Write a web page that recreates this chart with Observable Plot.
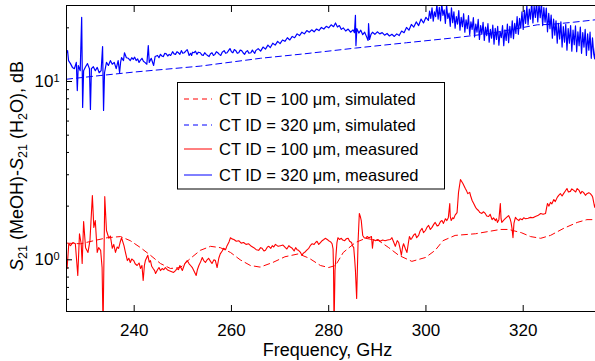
<!DOCTYPE html>
<html><head><meta charset="utf-8">
<script src="https://cdn.jsdelivr.net/npm/d3@7"></script>
<script src="https://cdn.jsdelivr.net/npm/@observablehq/plot@0.6"></script>
<style>
body{margin:0;background:#fff}
svg{font-family:"Liberation Sans",Arial,Helvetica,sans-serif}
</style>
</head><body><div id="chart"></div>
<script>
// ---- data ----
const xTicks = [240, 260, 280, 300, 320];
const yMajor = [1, 10];
const yMinor = [0.6, 0.7, 0.8, 0.9, 2, 3, 4, 5, 6, 7, 8, 9, 20];
const xDomain = [226.08, 334.87];
const yDomain = [0.5129, 26.69];

const legendLabels = [
  "CT ID = 100 \u03bcm, simulated",
  "CT ID = 320 \u03bcm, simulated",
  "CT ID = 100 \u03bcm, measured",
  "CT ID = 320 \u03bcm, measured"
];

// [frequency GHz, S21 difference dB]
const redSim = [[226.2,1.24],[229.0,1.23],[231.7,1.28],[234.45,1.33],[237.2,1.35],[239.2,1.28],[241.3,1.17],[243.35,1.06],[245.4,0.953],[247.45,0.894],[249.5,0.905],[251.6,1.02],[253.6,1.13],[255.7,1.19],[257.7,1.17],[259.8,1.10],[261.8,1.00],[263.9,0.929],[265.9,0.91],[268.5,0.966],[271.0,1.04],[273.8,1.08],[276.0,1.02],[278.3,0.929],[280.0,0.905],[281.4,0.929],[283.0,1.10],[285.5,1.25],[287.6,1.32],[290.3,1.28],[292.35,1.17],[294.4,1.06],[297.1,0.98],[299.9,1.03],[301.9,1.13],[303.5,1.28],[306.0,1.37],[310.2,1.40],[315.3,1.48],[317.0,1.48],[319.6,1.42],[321.5,1.35],[323.6,1.32],[325.6,1.37],[328.3,1.50],[331.1,1.62],[333.1,1.68],[334.9,1.68]];

const blueSim = [[226.1,10.3],[233,10.8],[240,11.3],[253.6,12.2],[266,13.5],[275,14.3],[285.5,15.4],[296,16.5],[306,17.6],[313.2,18.6],[320,20.1],[322.9,20.8],[325.6,20.9],[330.3,21.5],[334.9,22.2]];

const redMeas = [[226.2,0.894],[226.55,1.23],[226.9,1.20],[227.4,1.25],[227.9,1.23],[228.4,0.817],[228.75,1.40],[229.1,1.23],[229.3,0.953],[229.6,1.64],[230.0,1.17],[230.5,1.10],[230.9,1.28],[231.4,2.29],[231.7,1.52],[232.0,1.66],[232.4,1.10],[232.7,1.17],[233.1,1.13],[233.4,0.905],[233.6,0.42],[233.95,2.26],[234.3,1.46],[234.8,1.32],[235.1,1.36],[235.5,1.16],[235.8,1.22],[236.15,1.10],[236.5,1.18],[236.8,1.16],[237.1,1.25],[237.4,1.33],[237.9,1.20],[238.2,1.10],[238.6,0.99],[238.9,1.02],[239.2,0.966],[239.5,1.01],[239.9,0.99],[240.2,0.95],[240.6,0.929],[241.0,0.96],[241.3,0.894],[241.6,0.93],[241.85,0.765],[242.1,0.93],[242.3,0.99],[242.8,1.06],[243.1,0.97],[243.35,0.99],[243.6,0.92],[243.9,0.894],[244.2,0.87],[244.4,0.838],[244.8,0.88],[245.1,0.905],[245.4,0.87],[245.75,0.894],[246.1,0.88],[246.4,0.905],[246.8,0.88],[247.1,0.871],[247.6,0.86],[248.1,0.849],[248.5,0.87],[248.8,0.894],[249.1,0.88],[249.4,0.929],[249.9,0.871],[250.4,0.95],[250.9,0.99],[251.3,0.95],[251.6,0.929],[252.0,0.90],[252.25,0.871],[252.75,0.817],[253.0,0.88],[253.3,0.929],[253.7,0.98],[254.0,1.03],[254.3,0.99],[254.65,0.966],[255.0,1.00],[255.3,1.02],[255.7,0.98],[256.0,0.953],[256.4,1.00],[256.7,0.99],[257.05,0.905],[257.4,1.02],[257.7,1.08],[258.1,1.12],[258.4,1.16],[258.8,1.14],[259.1,1.20],[259.5,1.26],[259.8,1.33],[260.1,1.31],[260.5,1.30],[261.0,1.27],[261.5,1.28],[262.0,1.24],[262.5,1.25],[263.0,1.22],[263.55,1.23],[264.1,1.19],[264.6,1.17],[265.1,1.14],[265.6,1.13],[266.0,1.17],[266.3,1.16],[266.7,1.12],[267.0,1.13],[267.4,1.18],[267.7,1.19],[268.1,1.16],[268.4,1.20],[268.7,1.18],[269.05,1.22],[269.6,1.19],[270.1,1.20],[270.6,1.21],[271.1,1.17],[271.4,1.15],[271.8,1.20],[272.1,1.18],[272.5,1.16],[272.9,1.12],[273.2,1.17],[273.5,1.14],[273.8,1.13],[274.2,1.10],[274.5,1.06],[274.8,1.09],[275.2,1.11],[275.6,1.14],[275.9,1.16],[276.3,1.21],[276.6,1.23],[277.0,1.22],[277.3,1.25],[277.6,1.27],[277.95,1.22],[278.3,1.25],[278.65,1.28],[279.0,1.30],[279.3,1.32],[279.7,1.30],[280.0,1.28],[280.4,1.26],[280.7,1.23],[280.9,1.15],[281.0,0.871],[281.1,0.42],[281.3,0.871],[281.5,1.06],[281.7,1.25],[281.9,1.33],[282.2,1.30],[282.6,1.32],[282.9,1.29],[283.3,1.28],[283.6,1.31],[284.0,1.32],[284.3,1.27],[284.7,1.25],[284.9,1.20],[285.15,1.17],[285.35,1.00],[285.5,0.871],[285.75,0.607],[286.05,1.28],[286.3,1.82],[286.5,1.75],[286.7,1.66],[286.85,1.50],[287.0,1.37],[287.3,1.33],[287.55,1.32],[287.9,1.35],[288.25,1.33],[288.5,1.34],[288.8,1.35],[289.0,1.16],[289.2,1.30],[289.6,1.28],[290.1,1.30],[290.6,1.27],[291.1,1.29],[291.6,1.28],[292.1,1.29],[292.7,1.30],[293.0,1.33],[293.4,1.25],[293.7,1.19],[294.1,1.28],[294.4,1.25],[294.7,1.15],[294.95,1.06],[295.2,1.18],[295.4,1.23],[295.8,1.15],[296.1,1.10],[296.4,1.25],[296.6,1.35],[296.9,1.30],[297.1,1.32],[297.5,1.38],[297.8,1.40],[298.1,1.33],[298.5,1.37],[298.8,1.45],[299.2,1.50],[299.5,1.42],[299.9,1.46],[300.2,1.52],[300.55,1.56],[300.9,1.48],[301.25,1.52],[301.6,1.58],[301.9,1.62],[302.3,1.55],[302.6,1.56],[303.0,1.64],[303.3,1.66],[303.6,1.60],[304.0,1.70],[304.3,1.66],[304.6,1.72],[304.9,2.07],[305.0,1.75],[305.2,1.66],[305.5,1.72],[305.7,1.70],[306.0,1.78],[306.4,1.84],[306.7,2.39],[307.1,2.82],[307.35,2.75],[307.6,2.68],[308.1,2.51],[308.4,2.42],[308.6,2.35],[309.0,2.39],[309.2,2.28],[309.5,2.15],[309.9,2.05],[310.2,1.97],[310.5,1.92],[310.8,1.89],[311.1,1.84],[311.5,1.82],[311.8,1.86],[312.2,1.82],[312.5,1.76],[312.9,1.75],[313.2,1.80],[313.6,1.68],[313.9,1.72],[314.3,1.66],[314.5,1.70],[314.7,1.62],[315.0,1.68],[315.3,2.07],[315.45,1.70],[315.6,1.62],[316.0,1.67],[316.3,1.70],[316.7,1.74],[317.0,1.77],[317.3,1.70],[317.5,1.62],[317.7,1.50],[317.9,1.33],[318.1,1.60],[318.4,1.73],[318.7,1.69],[319.1,1.66],[319.4,1.70],[319.8,1.68],[320.1,1.72],[320.5,1.70],[321.0,1.71],[321.5,1.73],[322.0,1.72],[322.5,1.75],[323.0,1.77],[323.6,1.82],[324.1,1.80],[324.6,1.82],[324.8,1.95],[325.0,2.07],[325.3,2.00],[325.6,2.10],[325.9,2.06],[326.3,2.18],[326.6,2.12],[327.0,2.24],[327.3,2.30],[327.65,2.35],[328.0,2.28],[328.3,2.35],[328.7,2.44],[329.0,2.51],[329.3,2.40],[329.7,2.42],[330.0,2.50],[330.4,2.45],[330.8,2.40],[331.1,2.51],[331.5,2.45],[331.8,2.35],[332.1,2.42],[332.4,2.39],[332.8,2.30],[333.1,2.35],[333.5,2.38],[333.8,2.35],[334.1,2.30],[334.3,2.24],[334.5,2.10],[334.7,1.97],[334.87,2.05]];

const blueMeas = [[226.1,14.5],[226.3,14.9],[226.5,13.1],[226.9,12.6],[227.3,12.0],[227.7,11.8],[228.1,12.8],[228.3,8.9],[228.5,12.3],[228.9,11.5],[229.2,22.9],[229.4,7.15],[229.6,11.5],[230.0,12.1],[230.4,12.6],[230.8,11.8],[231.0,6.97],[231.2,11.8],[231.6,12.1],[232.0,11.5],[232.4,12.0],[232.8,11.2],[233.2,11.5],[233.5,15.7],[233.7,6.88],[233.9,11.2],[234.3,12.8],[234.7,12.3],[235.1,13.1],[235.5,12.5],[235.9,12.8],[236.3,11.8],[236.7,13.1],[237.0,11.2],[237.2,12.8],[237.4,13.6],[237.8,13.1],[238.0,14.5],[238.4,13.6],[238.8,13.5],[239.2,13.1],[239.5,13.6],[239.8,13.3],[240.1,13.7],[240.4,13.1],[240.7,13.4],[241.0,12.8],[241.3,13.2],[241.6,13.5],[241.9,13.0],[242.2,12.8],[242.6,12.5],[242.9,15.9],[243.1,12.8],[243.5,13.5],[244.0,12.3],[244.3,13.8],[244.8,14.0],[245.1,13.6],[245.4,14.2],[245.7,13.9],[246.0,13.8],[246.3,14.4],[246.6,14.3],[246.9,13.9],[247.2,14.2],[247.5,14.0],[247.9,14.7],[248.2,14.3],[248.5,14.2],[248.8,14.7],[249.1,14.5],[249.4,14.2],[249.7,14.9],[250.0,14.4],[250.3,14.5],[250.6,14.8],[250.9,15.1],[251.1,14.6],[251.3,14.0],[251.6,14.4],[251.8,14.0],[252.0,14.6],[252.3,14.5],[252.6,14.8],[252.9,14.2],[253.2,14.6],[253.6,14.5],[253.9,14.1],[254.2,14.0],[254.5,14.5],[254.8,14.2],[255.1,14.0],[255.4,13.8],[255.7,14.3],[256.0,14.5],[256.3,14.0],[256.6,14.2],[256.9,14.7],[257.2,14.5],[257.5,14.2],[257.8,14.0],[258.1,14.6],[258.5,14.9],[258.8,14.4],[259.1,14.5],[259.4,14.9],[259.7,15.3],[260.0,14.7],[260.3,14.5],[260.6,15.1],[260.9,14.9],[261.2,14.4],[261.5,14.5],[261.8,15.0],[262.1,14.9],[262.4,14.5],[262.7,14.2],[263.0,14.7],[263.3,14.9],[263.6,14.4],[264.0,14.5],[264.3,15.0],[264.5,14.7],[264.8,14.4],[265.0,14.9],[265.5,15.3],[266.0,14.8],[266.5,15.6],[267.0,15.2],[267.5,16.0],[268.0,15.5],[268.5,16.4],[269.0,16.0],[269.5,16.8],[270.0,16.3],[270.5,17.1],[271.0,16.8],[271.5,17.6],[272.0,17.1],[272.5,17.9],[273.0,17.6],[273.5,18.5],[274.0,18.1],[274.5,18.9],[275.0,18.5],[275.5,19.3],[276.0,18.9],[276.5,19.5],[277.0,19.0],[277.5,19.7],[278.0,19.3],[278.5,20.1],[279.0,19.7],[279.5,20.4],[280.0,20.0],[280.5,20.8],[281.0,20.3],[281.4,21.3],[281.8,20.2],[282.2,20.6],[282.6,19.6],[283.0,20.0],[283.5,19.2],[284.0,19.7],[284.5,18.9],[285.0,19.5],[285.3,18.8],[285.5,23.5],[285.6,15.9],[285.8,19.8],[286.2,18.7],[286.6,19.4],[287.0,18.3],[287.4,18.9],[287.8,17.8],[288.1,17.0],[288.2,21.1],[288.4,17.2],[288.7,18.4],[289.0,18.9],[289.5,18.4],[290.0,19.0],[290.5,18.5],[291.0,18.8],[291.5,18.2],[292.0,18.6],[292.5,18.0],[293.0,18.4],[293.5,17.9],[294.0,18.5],[294.5,18.1],[295.0,19.2],[295.5,18.8],[296.0,20.1],[296.5,19.4],[297.0,20.9],[297.5,20.2],[298.0,21.6],[298.5,20.6],[299.0,22.4],[299.5,21.3],[300.0,22.9],[300.5,22.0],[300.75,24.8],[301.0,22.6],[301.25,25.9],[301.5,21.8],[301.75,24.6],[302.0,23.1],[302.25,27.0],[302.5,22.4],[302.75,26.1],[303.0,21.9],[303.25,27.4],[303.5,23.5],[303.75,25.2],[304.0,21.2],[304.25,26.8],[304.5,22.6],[304.75,24.2],[305.0,20.4],[305.25,25.9],[305.5,21.4],[305.75,24.6],[306.0,19.9],[306.25,23.1],[306.5,21.0],[306.75,25.0],[307.0,19.4],[307.25,22.9],[307.5,20.3],[307.75,24.0],[308.0,18.9],[308.25,22.2],[308.5,19.8],[308.75,23.4],[309.0,18.3],[309.25,21.6],[309.5,19.6],[309.75,22.8],[310.0,17.8],[310.25,21.0],[310.5,18.9],[310.75,22.3],[311.0,17.2],[311.25,20.6],[311.5,18.4],[311.75,21.5],[312.0,17.0],[312.25,20.2],[312.5,18.1],[312.75,21.1],[313.0,16.6],[313.25,19.6],[313.5,17.5],[313.75,20.7],[314.0,16.2],[314.25,19.9],[314.5,17.2],[314.75,20.4],[315.0,16.0],[315.25,19.1],[315.5,17.6],[315.75,20.6],[316.0,15.9],[316.25,19.5],[316.5,17.0],[316.75,21.0],[317.0,16.5],[317.25,20.4],[317.5,17.6],[317.75,21.9],[318.0,17.4],[318.25,21.2],[318.5,18.6],[318.75,23.1],[319.0,18.4],[319.25,22.6],[319.5,19.9],[319.75,24.6],[320.0,19.6],[320.25,25.1],[320.5,21.2],[320.75,26.6],[321.0,20.8],[321.25,25.5],[321.5,22.4],[321.75,27.9],[322.0,21.3],[322.25,26.5],[322.5,22.9],[322.75,28.0],[323.0,21.6],[323.25,27.2],[323.5,22.8],[323.75,27.6],[324.0,20.6],[324.25,26.0],[324.5,21.5],[324.75,25.8],[325.0,19.0],[325.25,24.1],[325.5,19.8],[325.75,23.6],[326.0,17.5],[326.25,22.4],[326.5,18.2],[326.75,21.9],[327.0,16.4],[327.25,21.2],[327.5,17.3],[327.75,21.6],[328.0,15.6],[328.25,20.3],[328.5,16.6],[328.75,20.9],[329.0,15.0],[329.25,19.8],[329.5,16.4],[329.75,20.6],[330.0,14.8],[330.25,19.4],[330.5,16.1],[330.75,20.5],[331.0,14.7],[331.25,19.0],[331.5,15.9],[331.75,20.2],[332.0,14.4],[332.25,18.8],[332.5,15.6],[332.75,19.6],[333.0,14.0],[333.25,18.5],[333.5,15.0],[333.75,18.9],[334.0,13.5],[334.25,17.6],[334.5,14.3],[334.7,13.4],[334.87,15.5]];

// ---- layout / styles ----
const RED = "#ff0000", BLUE = "#0000ff";
const FONT = '"Liberation Sans", Arial, Helvetica, sans-serif';
const legendStyles = [
  {stroke: RED, dash: "5,4"},
  {stroke: BLUE, dash: "5,4"},
  {stroke: RED, dash: null},
  {stroke: BLUE, dash: null}
];

const fx = d => d[0], fy = d => d[1];

const chart = Plot.plot({
  width: 595, height: 361,
  marginLeft: 66, marginRight: 0, marginTop: 5, marginBottom: 50,
  style: {fontFamily: FONT, fontSize: "17px", color: "black", background: "white"},
  x: {domain: xDomain},
  y: {type: "log", domain: yDomain},
  marks: [
    Plot.line(redSim, {x: fx, y: fy, stroke: RED, strokeWidth: 1, strokeDasharray: "6,4", clip: true}),
    Plot.line(blueSim, {x: fx, y: fy, stroke: BLUE, strokeWidth: 1, strokeDasharray: "6,4", clip: true}),
    Plot.line(redMeas, {x: fx, y: fy, stroke: RED, strokeWidth: 1.1, clip: true}),
    Plot.line(blueMeas, {x: fx, y: fy, stroke: BLUE, strokeWidth: 1.2, clip: true}),
    Plot.frame({anchor: "left", stroke: "black"}),
    Plot.frame({anchor: "top", stroke: "black"}),
    Plot.frame({anchor: "bottom", stroke: "black"}),
    Plot.axisX({ticks: xTicks, anchor: "bottom", tickSize: 6, dy: -6, fill: "none", label: null}),
    Plot.axisX({ticks: xTicks, anchor: "top", tickSize: 6, dy: 6, fill: "none", label: null}),
    Plot.axisX({ticks: xTicks, anchor: "bottom", tickSize: 0, tickPadding: 12, fontSize: 17, tickFormat: d => String(d), label: null}),
    Plot.axisY({ticks: yMajor, anchor: "left", tickSize: 6, dx: 6, fill: "none", label: null}),
    Plot.axisY({ticks: yMinor, anchor: "left", tickSize: 3, dx: 3, fill: "none", label: null}),
    Plot.axisY({ticks: yMajor, anchor: "left", tickSize: 0, tickPadding: 7, fontSize: 17, tickFormat: d => "10^" + Math.round(Math.log10(d)), label: null})
  ]
});
document.getElementById("chart").appendChild(chart);

const svg = d3.select(chart);
// superscripts for log tick labels
svg.selectAll("text").each(function() {
  const t = this.textContent;
  if (/^10\^-?\d+$/.test(t)) {
    const exp = t.split("^")[1];
    const sel = d3.select(this);
    sel.text("10");
    sel.append("tspan").attr("dy", "-0.45em").attr("font-size", "11px").text(exp);
  }
});

// x title
svg.append("text")
  .attr("x", 327.5).attr("y", 356)
  .attr("text-anchor", "middle")
  .attr("font-family", FONT).attr("font-size", 18).attr("fill", "black")
  .text("Frequency, GHz");

// y title with subscripts
const yt = svg.append("text")
  .attr("transform", "translate(23,166) rotate(-90)")
  .attr("text-anchor", "middle")
  .attr("font-family", FONT).attr("font-size", 18).attr("fill", "black");
const parts = [
  ["S", "it"], ["21", "sub"], [" (MeOH)-", ""], ["S", "it"], ["21", "sub"], [" (H", ""], ["2", "sub"], ["O), dB", ""]
];
let lowered = false;
parts.forEach(([s, kind]) => {
  const ts = yt.append("tspan").text(s);
  if (kind === "sub") { ts.attr("font-size", 12.5).attr("dy", lowered ? 0 : 4); lowered = true; }
  else { if (lowered) { ts.attr("dy", -4); lowered = false; } if (kind === "it") ts.attr("font-style", "italic"); }
});

// legend
const L = {x: 177.5, y: 82.5, w: 267, h: 106.5, lineX1: 184, lineX2: 212, textX: 219, rows: [99, 125, 149, 175]};
const lg = svg.append("g");
lg.append("rect").attr("x", L.x).attr("y", L.y).attr("width", L.w).attr("height", L.h)
  .attr("fill", "white").attr("stroke", "black").attr("stroke-width", 1);
legendLabels.forEach((lab, i) => {
  const cy = L.rows[i];
  const st = legendStyles[i];
  const ln = lg.append("line").attr("x1", L.lineX1).attr("x2", L.lineX2).attr("y1", cy).attr("y2", cy)
    .attr("stroke", st.stroke).attr("stroke-width", 1);
  if (st.dash) ln.attr("stroke-dasharray", st.dash);
  lg.append("text").attr("x", L.textX).attr("y", cy + 6)
    .attr("text-anchor", "start")
    .attr("font-family", FONT).attr("font-size", 16.5).attr("fill", "black").text(lab);
});
</script>
</body></html>
